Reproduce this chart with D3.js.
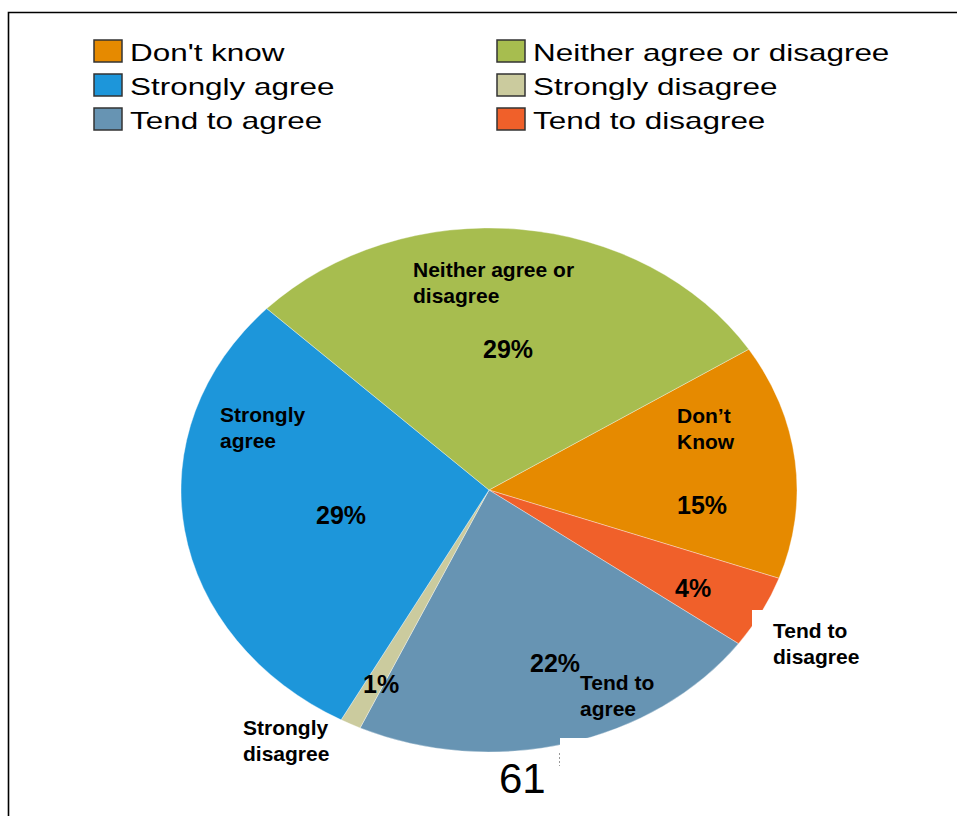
<!DOCTYPE html>
<html>
<head>
<meta charset="utf-8">
<script src="https://cdn.jsdelivr.net/npm/d3@7"></script>
<style>
  body { margin: 0; background: #fff; }
  svg { display: block; font-family: "Liberation Sans", Arial, sans-serif; }
</style>
</head>
<body>
<svg id="pie_svg" width="957" height="816"></svg>
<script>
// slice order goes clockwise, starting at the Neither / Don't know border
const categories = ["Don't know", "Tend to disagree", "Tend to agree", "Strongly disagree", "Strongly agree", "Neither agree or disagree"];
const values = [14.5, 4.5, 21.9, 1.1, 29.2, 28.8];
const pctLabels = ["15%", "4%", "22%", "1%", "29%", "29%"];
const sliceNames = [["Don’t", "Know"], ["Tend to", "disagree"], ["Tend to", "agree"], ["Strongly", "disagree"], ["Strongly", "agree"], ["Neither agree or", "disagree"]];
const legendOrder = ["Don't know", "Neither agree or disagree", "Strongly agree", "Strongly disagree", "Tend to agree", "Tend to disagree"];
const palette = ["#e68a00", "#f0602a", "#6794b3", "#cbcb9e", "#1d96da", "#a7bd4f"];

const svg = d3.select('#pie_svg');
const cx = 489, cy = 490;
const rx = 308, ry = 262;

const color = d3.scaleOrdinal().domain(categories).range(palette);

// frame (left and top edges only are visible)
svg.append('path')
    .attr('d', 'M8.5,816 V12.5 H957')
    .style('fill', 'none')
    .style('stroke', '#000')
    .style('stroke-width', 1.6);

// legend, two columns
const legend = svg.append('g');
const legItems = legend.selectAll('g')
    .data(legendOrder)
    .join('g')
    .attr('transform', (d, i) => `translate(${i % 2 ? 497 : 94},${40 + Math.floor(i / 2) * 34})`);
legItems.append('rect')
    .attr('width', 28)
    .attr('height', 22)
    .style('fill', d => color(d))
    .style('stroke', '#333')
    .style('stroke-width', 1.5);
legItems.append('text')
    .attr('transform', 'translate(36,21) scale(1.31,1)')
    .style('font-size', '24px')
    .style('fill', '#000')
    .text(d => d);

// pie, drawn as a circle and squashed to an ellipse
const pie = d3.pie().sort(null).value(d => d)
    .startAngle(57.5 * Math.PI / 180)
    .endAngle((57.5 + 360) * Math.PI / 180);
const arc = d3.arc().innerRadius(0).outerRadius(rx);

const pieG = svg.append('g')
    .attr('transform', `translate(${cx},${cy}) scale(1,${ry / rx})`);
pieG.selectAll('path')
    .data(pie(values))
    .join('path')
    .attr('d', arc)
    .style('fill', (d, i) => color(categories[i]))
    .style('stroke', 'rgba(255,255,255,0.5)')
    .style('stroke-width', 0.7)
    .attr('vector-effect', 'non-scaling-stroke');

// white boxes from the original slide that cover part of the pie edge
svg.append('rect').attr('x', 752).attr('y', 610).attr('width', 130).attr('height', 70).style('fill', '#fff');
svg.append('rect').attr('x', 560).attr('y', 738).attr('width', 200).attr('height', 78).style('fill', '#fff');
svg.append('line')
    .attr('x1', 559.5).attr('x2', 559.5).attr('y1', 753).attr('y2', 766)
    .style('stroke', '#999')
    .style('stroke-dasharray', '2,2');

// label placement, offsets from the pie centre
const nameOffsets = [[188, -67], [284, 148], [91, 200], [-246, 245], [-269, -68], [-76, -213]];
const pctOffsets = [[188, 24], [186, 107], [41, 182], [-126, 203], [-173, 34], [-6, -132]];

const labels = svg.append('g').attr('transform', `translate(${cx},${cy})`);
labels.selectAll('.slice-name')
    .data(sliceNames)
    .join('text')
    .classed('slice-name', true)
    .attr('x', (d, i) => nameOffsets[i][0])
    .attr('y', (d, i) => nameOffsets[i][1])
    .style('font-size', '21px')
    .style('font-weight', 'bold')
    .selectAll('tspan')
    .data(d => d)
    .join('tspan')
    .attr('x', function () { return d3.select(this.parentNode).attr('x'); })
    .attr('dy', (d, j) => j ? 26 : 0)
    .text(d => d);

labels.selectAll('.slice-pct')
    .data(pctLabels)
    .join('text')
    .classed('slice-pct', true)
    .attr('x', (d, i) => pctOffsets[i][0])
    .attr('y', (d, i) => pctOffsets[i][1])
    .style('font-size', '25px')
    .style('font-weight', 'bold')
    .text(d => d);

// slide page number
svg.append('text')
    .attr('x', 499)
    .attr('y', 793)
    .style('font-size', '42px')
    .text('61');
</script>
</body>
</html>
